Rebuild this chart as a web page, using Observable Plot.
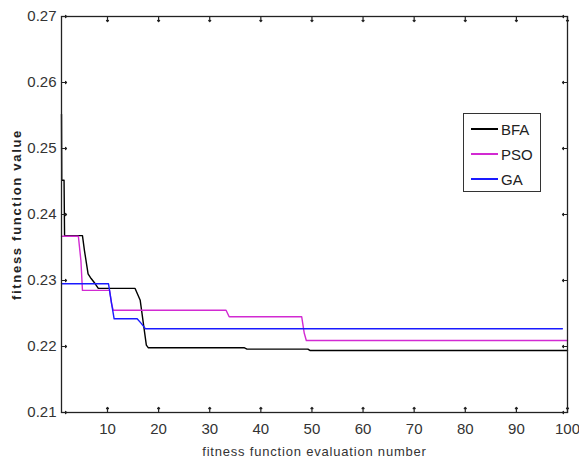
<!DOCTYPE html>
<html>
<head>
<meta charset="utf-8">
<script src="https://cdn.jsdelivr.net/npm/d3@7"></script>
<script src="https://cdn.jsdelivr.net/npm/@observablehq/plot@0.6"></script>
<style>
  html, body { margin: 0; padding: 0; background: #fff; }
  #wrap { position: relative; width: 579px; height: 459px; font-family: "Liberation Sans", Arial, sans-serif; }
  #legend { position: absolute; left: 463px; top: 113px; width: 76px; height: 77px; border: 1px solid #333; background: #fff; box-sizing: content-box; }
  .lg { position: absolute; left: 0; height: 20px; display: flex; align-items: center; font-size: 15px; color: #222; }
  .lg span.sw { display: inline-block; width: 27px; height: 1.5px; margin-left: 7px; margin-right: 3px; }
  g[aria-label="x-axis label"] text { font-size: 13px; fill: #333; letter-spacing: 0.8px; }
  g[aria-label="y-axis label"] text { font-size: 13px; fill: #222; font-weight: bold; letter-spacing: 1.7px; }
</style>
</head>
<body>
<div id="wrap"></div>
<script>
// ---- data ----
const xTicks = [10, 20, 30, 40, 50, 60, 70, 80, 90, 100];
const yTicks = [0.21, 0.22, 0.23, 0.24, 0.25, 0.26, 0.27];
const xDomain = [1, 100];
const yDomain = [0.21, 0.27];
const seriesNames = ["BFA", "PSO", "GA"];
const seriesColors = ["#000000", "#d22ad2", "#1a1aff"];

const bfaX = [1, 1.05, 1.5, 1.6, 5.1, 5.5, 6.2, 6.8, 7.6, 8.2, 15.4, 16.4, 17.6, 18, 36.8, 37.3, 49.2, 49.6, 100];
const bfaY = [0.2552, 0.2452, 0.2452, 0.2368, 0.2368, 0.2345, 0.2310, 0.2303, 0.2295, 0.2288, 0.2288, 0.2270, 0.2202, 0.2198, 0.2198, 0.2196, 0.2196, 0.2194, 0.2194];

const psoX = [1, 4.3, 4.8, 5.1, 10.4, 10.8, 11.1, 33.2, 33.8, 48, 48.5, 48.9, 100];
const psoY = [0.2367, 0.2367, 0.2330, 0.2285, 0.2285, 0.2265, 0.2255, 0.2255, 0.2245, 0.2245, 0.2220, 0.2209, 0.2209];

const gaX = [1, 10.2, 10.8, 11.3, 15.8, 16.6, 17.4, 99];
const gaY = [0.2295, 0.2295, 0.2265, 0.2242, 0.2242, 0.2235, 0.2227, 0.2227];

const xLabel = "fitness function evaluation number";
const yLabel = "fitness function value";

// ---- build table ----
const raw = [[bfaX, bfaY], [psoX, psoY], [gaX, gaY]];
const data = raw.flatMap(([xs, ys], i) => xs.map((x, j) => ({series: seriesNames[i], x, y: ys[j]})));

const fmt = d3.format(".2f");
const tickLen = 5;
const tickStyle = {length: tickLen, anchor: "start", stroke: "#222", strokeWidth: 1.2};

const chart = Plot.plot({
  width: 579,
  height: 459,
  marginLeft: 61,
  marginRight: 12,
  marginTop: 16,
  marginBottom: 47,
  style: {fontFamily: "Liberation Sans, Arial, sans-serif", background: "#fff", color: "#333"},
  x: {domain: xDomain},
  y: {domain: yDomain},
  color: {domain: seriesNames, range: seriesColors},
  marks: [
    Plot.line(data, {x: "x", y: "y", z: "series", stroke: "series", strokeWidth: 1.4}),
    Plot.frame({stroke: "#222", strokeWidth: 1.3}),
    // inward tick marks on all four sides
    Plot.vector(xTicks, {x: d => d, y: yDomain[0], rotate: 0, ...tickStyle}),
    Plot.vector(xTicks, {x: d => d, y: yDomain[1], rotate: 180, ...tickStyle}),
    Plot.vector(yTicks, {x: xDomain[0], y: d => d, rotate: 90, ...tickStyle}),
    Plot.vector(yTicks, {x: xDomain[1], y: d => d, rotate: -90, ...tickStyle}),
    // tick labels and axis titles
    Plot.axisX({ticks: xTicks, tickSize: 0, tickPadding: 11, fontSize: 15, fill: "#333",
      label: xLabel, labelAnchor: "center", labelArrow: "none", labelOffset: 43}),
    Plot.axisY({ticks: yTicks, tickSize: 0, tickPadding: 5, fontSize: 15, tickFormat: fmt, fill: "#333",
      label: yLabel, labelAnchor: "center", labelArrow: "none", labelOffset: 50})
  ]
});

const wrap = document.getElementById("wrap");
wrap.appendChild(chart);

// legend overlay
const legend = document.createElement("div");
legend.id = "legend";
seriesNames.forEach((name, i) => {
  const row = document.createElement("div");
  row.className = "lg";
  row.style.top = (5 + i * 25) + "px";
  const sw = document.createElement("span");
  sw.className = "sw";
  sw.style.background = seriesColors[i];
  row.appendChild(sw);
  row.appendChild(document.createTextNode(name));
  legend.appendChild(row);
});
wrap.appendChild(legend);
</script>
</body>
</html>
